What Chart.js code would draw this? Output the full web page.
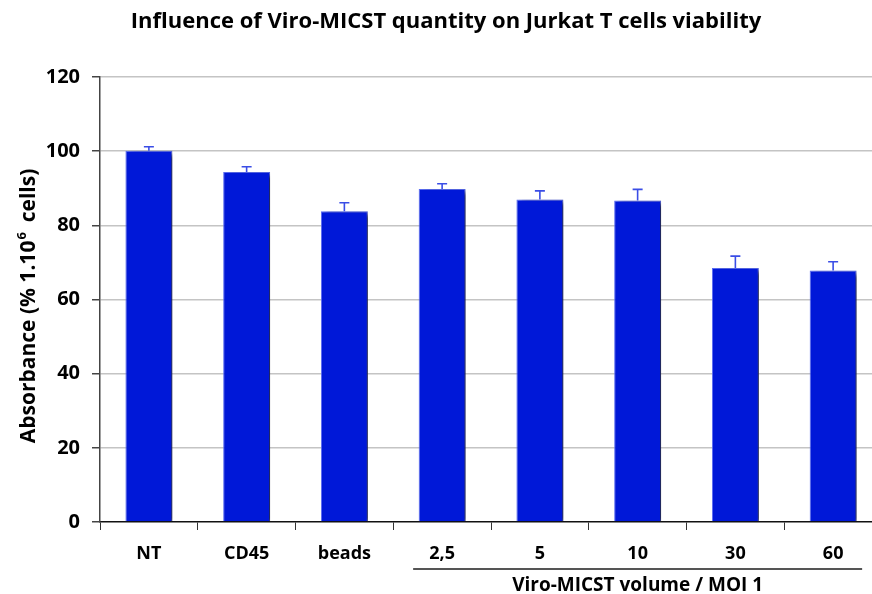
<!DOCTYPE html>
<html>
<head>
<meta charset="utf-8">
<script src="https://cdn.jsdelivr.net/npm/chart.js@4"></script>
<style>
html,body{margin:0;padding:0;background:#fff;overflow:hidden;width:872px;height:594px;}
#wrap{position:absolute;left:0;top:0;width:892px;height:594px;}
</style>
</head>
<body>
<div id="wrap"><canvas id="c" width="892" height="594"></canvas></div>
<script>
const categories = ["NT", "CD45", "beads", "2,5", "5", "10", "30", "60"];
const values = [100.1, 94.4, 83.8, 89.8, 87.0, 86.7, 68.5, 67.8];
const errors = [1.1, 1.4, 2.3, 1.4, 2.3, 3.0, 3.2, 2.4];
const yTicks = [0, 20, 40, 60, 80, 100, 120];
const titleText = "Influence of Viro-MICST quantity on Jurkat T cells viability";
const yTitleParts = ["Absorbance (% 1.10", "6", "  cells)"];
const groupLabel = "Viro-MICST volume / MOI 1";
const groupFrom = 3, groupTo = 7;

const FONT = "'Open Sans', sans-serif";

const shadowPlugin = {
  id: 'shadow',
  beforeDatasetsDraw(chart) {
    const ctx = chart.ctx;
    ctx.save();
    ctx.shadowColor = 'rgba(0,0,0,0.7)';
    ctx.shadowBlur = 5;
    ctx.shadowOffsetX = 5;
    ctx.shadowOffsetY = 2;
  },
  afterDatasetsDraw(chart) {
    chart.ctx.restore();
    const ctx = chart.ctx;
    const y = chart.scales.y;
    const meta = chart.getDatasetMeta(0);
    ctx.save();
    ctx.strokeStyle = '#3a4de6';
    ctx.lineWidth = 1.6;
    meta.data.forEach((bar, i) => {
      const x = bar.x;
      const y0 = y.getPixelForValue(values[i]);
      const y1 = y.getPixelForValue(values[i] + errors[i]);
      ctx.beginPath();
      ctx.moveTo(x, y0);
      ctx.lineTo(x, y1);
      ctx.moveTo(x - 5, y1);
      ctx.lineTo(x + 5, y1);
      ctx.stroke();
    });
    ctx.restore();
  },
  afterDraw(chart) {
    const ctx = chart.ctx;
    const xs = chart.scales.x;
    ctx.save();
    ctx.fillStyle = '#000';
    ctx.font = "bold 22px " + FONT;
    ctx.textAlign = 'center';
    ctx.textBaseline = 'alphabetic';
    ctx.fillText(titleText, 446, 28);

    // rotated y-axis title with superscript
    ctx.save();
    ctx.translate(35, 306);
    ctx.rotate(-Math.PI / 2);
    const big = "bold 21px " + FONT, small = "bold 13px " + FONT;
    ctx.font = big;
    const w0 = ctx.measureText(yTitleParts[0]).width;
    const w2 = ctx.measureText(yTitleParts[2]).width;
    ctx.font = small;
    const w1 = ctx.measureText(yTitleParts[1]).width;
    let sx = -(w0 + w1 + w2) / 2;
    ctx.textAlign = 'left';
    ctx.font = big;
    ctx.fillText(yTitleParts[0], sx, 0);
    ctx.font = small;
    ctx.fillText(yTitleParts[1], sx + w0 + 1, -9);
    ctx.font = big;
    ctx.fillText(yTitleParts[2], sx + w0 + w1, 0);
    ctx.restore();

    const x1 = xs.getPixelForValue(groupFrom) - 29;
    const x2 = xs.getPixelForValue(groupTo) + 29;
    ctx.strokeStyle = '#555';
    ctx.lineWidth = 2;
    ctx.beginPath();
    ctx.moveTo(x1, 569);
    ctx.lineTo(x2, 569);
    ctx.stroke();
    ctx.textAlign = 'center';
    ctx.font = "bold 19px " + FONT;
    ctx.fillStyle = '#000';
    ctx.fillText(groupLabel, (x1 + x2) / 2, 591);
    ctx.restore();
  }
};

new Chart(document.getElementById('c'), {
  type: 'bar',
  data: {
    labels: categories,
    datasets: [{
      data: values,
      backgroundColor: '#0018d8',
      borderColor: '#5a6cf2',
      borderWidth: 1,
      barPercentage: 0.48,
      categoryPercentage: 1.0
    }]
  },
  options: {
    responsive: false,
    animation: false,
    layout: { padding: { top: 77, left: 0, right: 10, bottom: 0 } },
    plugins: { legend: { display: false }, tooltip: { enabled: false }, title: { display: false } },
    scales: {
      x: {
        afterFit(s) { s.height = 72; },
        grid: { offset: true, drawOnChartArea: false, drawTicks: true, tickLength: 8, tickColor: '#333' },
        border: { color: '#111', width: 1.5 },
        ticks: { color: '#000', font: { family: FONT, size: 18, weight: 'bold' }, padding: 13, maxRotation: 0 }
      },
      y: {
        min: 0, max: 120,
        afterFit(s) { s.width = 100; },
        afterBuildTicks(s) { s.ticks = yTicks.map(v => ({ value: v })); },
        grid: { color: (c) => c.tick && c.tick.value === 0 ? 'rgba(0,0,0,0)' : '#c4c4c4', lineWidth: 1.5, tickLength: 8, tickColor: '#444' },
        border: { color: '#444', width: 1.5 },
        ticks: { color: '#000', font: { family: FONT, size: 20, weight: 'bold' }, padding: 12 }
      }
    }
  },
  plugins: [shadowPlugin]
});
</script>
</body>
</html>
